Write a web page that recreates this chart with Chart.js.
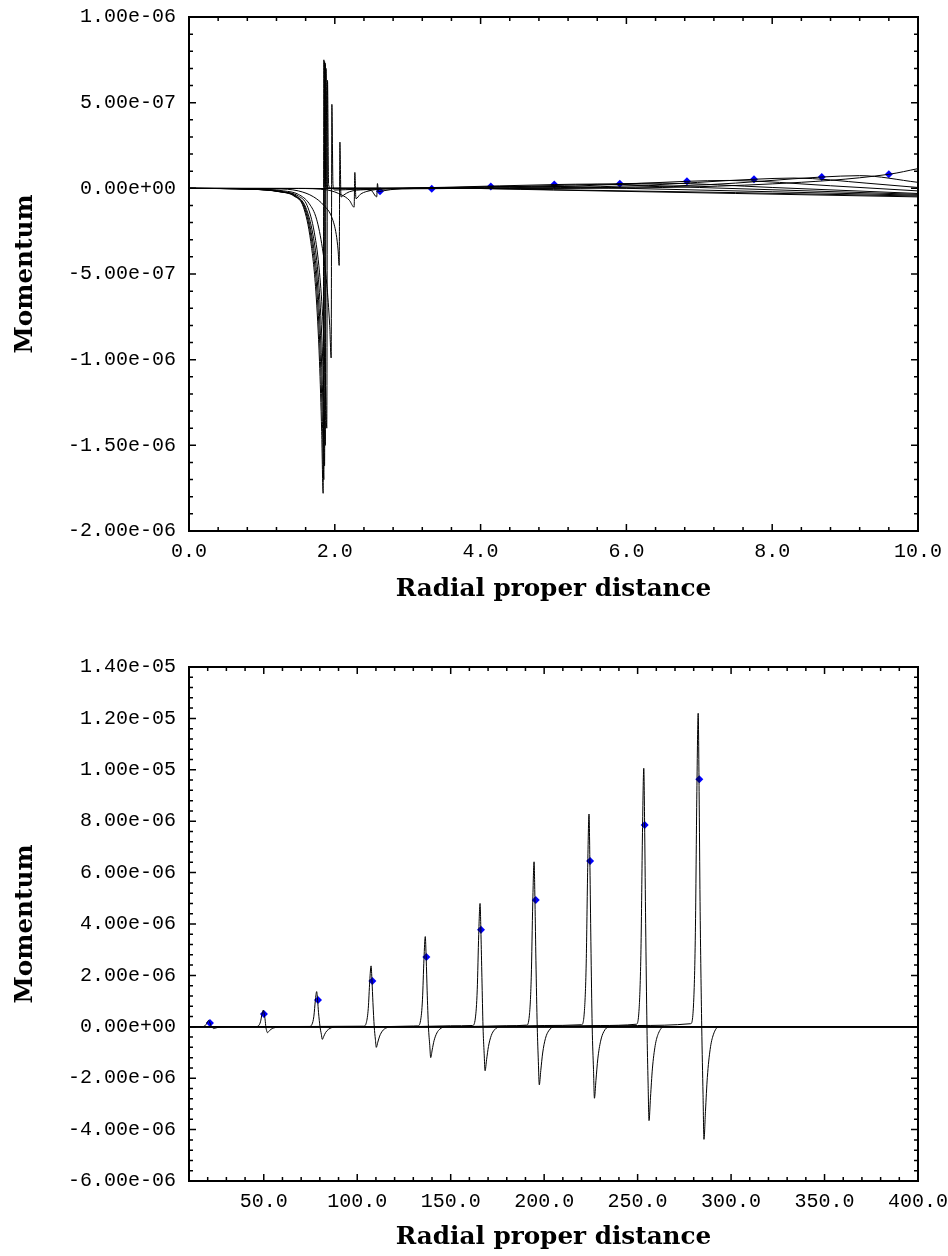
<!DOCTYPE html>
<html>
<head>
<meta charset="utf-8">
<script src="https://cdn.jsdelivr.net/npm/chart.js@4.4.1/dist/chart.umd.min.js"></script>
<style>
  html, body { margin: 0; padding: 0; background: #fff; }
  canvas { display: block; }
</style>
</head>
<body>
<canvas id="topChart" width="948" height="620"></canvas>
<canvas id="bottomChart" width="948" height="636"></canvas>
<script>
// ---- top panel (r = 0 .. 10) ----
const topXTicks = [0, 2, 4, 6, 8, 10];
const topXLabels = ['0.0', '2.0', '4.0', '6.0', '8.0', '10.0'];
const topYTicks = [-2e-6, -1.5e-6, -1e-6, -5e-7, 0, 5e-7, 1e-6];
const topYLabels = ['-2.00e-06', '-1.50e-06', '-1.00e-06', '-5.00e-07', '0.00e+00', '5.00e-07', '1.00e-06'];

// one momentum profile per snapshot, [r, p]
const topCurve1 = [[0,0],[1.5,0],[2.3,-0.04e-7],[2.5,-0.13e-7],[2.575,-0.5e-7],[2.585,0.28e-7],[2.6,-0.2e-7],[2.62,-0.175e-7],[3.2,0.03e-7],[5,-0.1e-7],[7.5,-0.3e-7],[10,-0.5e-7]];
const topCurve2 = [[0,0],[1.5,-0.01e-7],[1.9,-0.1e-7],[2.1,-0.4e-7],[2.2,-0.7e-7],[2.265,-1.1e-7],[2.275,0.93e-7],[2.29,-0.6e-7],[2.35,-0.35e-7],[2.44,-0.18e-7],[2.7,-0.03e-7],[3.33,-0.02e-7],[3.8,0],[5,-0.08e-7],[7.5,-0.25e-7],[10,-0.45e-7]];
const topCurve3 = [[0,0],[1.2,-0.03e-7],[1.5,-0.15e-7],[1.71,-0.5e-7],[1.85,-1.0e-7],[1.96,-1.7e-7],[2.02,-2.7e-7],[2.045,-3.6e-7],[2.06,-4.5e-7],[2.07,2.7e-7],[2.085,-0.5e-7],[2.12,-0.4e-7],[2.2,-0.2e-7],[2.4,-0.08e-7],[3,-0.02e-7],[4.14,0.10e-7],[4.7,0.12e-7],[6,0],[8,-0.2e-7],[10,-0.4e-7]];
const topCurve4 = [[0,0],[0.9,-0.03e-7],[1.3,-0.15e-7],[1.5,-0.35e-7],[1.65,-0.9e-7],[1.75,-1.8e-7],[1.83,-3.5e-7],[1.89,-5.6e-7],[1.93,-8.0e-7],[1.95,-9.9e-7],[1.96,4.9e-7],[1.975,0.2e-7],[2.0,-0.1e-7],[2.3,-0.05e-7],[3.5,0.06e-7],[5.01,0.22e-7],[5.6,0.25e-7],[7,0.05e-7],[10,-0.35e-7]];
const topCurve5 = [[0,0],[0.9,-0.05e-7],[1.3,-0.2e-7],[1.5,-0.45e-7],[1.62,-1.0e-7],[1.72,-2.6e-7],[1.79,-4.9e-7],[1.84,-8.0e-7],[1.87,-11.2e-7],[1.89,-14.0e-7],[1.9,6.3e-7],[1.915,0.2e-7],[1.95,0],[3,0],[4.4,0.09e-7],[5.91,0.27e-7],[6.5,0.30e-7],[8,0.05e-7],[10,-0.3e-7]];
const topCurve6 = [[0,0],[0.87,-0.05e-7],[1.27,-0.2e-7],[1.47,-0.45e-7],[1.6,-1.1e-7],[1.7,-2.7e-7],[1.77,-5.0e-7],[1.82,-8.5e-7],[1.85,-12.0e-7],[1.87,-15.0e-7],[1.88,7.0e-7],[1.895,0.2e-7],[1.93,0],[3.5,0],[5.3,0.13e-7],[6.83,0.41e-7],[7.4,0.46e-7],[8.8,0.15e-7],[10,-0.15e-7]];
const topCurve7 = [[0,0],[0.86,-0.05e-7],[1.26,-0.2e-7],[1.46,-0.45e-7],[1.59,-1.1e-7],[1.69,-2.9e-7],[1.76,-5.4e-7],[1.81,-9.2e-7],[1.84,-13.0e-7],[1.86,-16.2e-7],[1.87,7.3e-7],[1.885,0.2e-7],[1.92,0],[4,0],[6.2,0.17e-7],[7.75,0.53e-7],[8.3,0.60e-7],[9.3,0.3e-7],[10,0.05e-7]];
const topCurve8 = [[0,0],[0.85,-0.05e-7],[1.25,-0.2e-7],[1.45,-0.45e-7],[1.58,-1.1e-7],[1.68,-3.0e-7],[1.75,-5.7e-7],[1.8,-9.7e-7],[1.83,-13.6e-7],[1.85,-17.0e-7],[1.86,7.4e-7],[1.875,0.2e-7],[1.91,0],[4.5,0],[7.1,0.21e-7],[8.68,0.66e-7],[9.2,0.74e-7],[10,0.35e-7]];
const topCurve9 = [[0,0],[0.84,-0.05e-7],[1.24,-0.2e-7],[1.44,-0.45e-7],[1.57,-1.1e-7],[1.67,-3.1e-7],[1.74,-6.0e-7],[1.79,-10.1e-7],[1.82,-14.2e-7],[1.84,-17.8e-7],[1.85,7.5e-7],[1.865,0.2e-7],[1.9,0],[5,0],[8,0.26e-7],[9.6,0.82e-7],[10,1.15e-7]];
const topCurves = [topCurve1, topCurve2, topCurve3, topCurve4, topCurve5, topCurve6, topCurve7, topCurve8, topCurve9];

// blue markers on each snapshot
const topMarkerX = [2.62, 3.33, 4.14, 5.01, 5.91, 6.83, 7.75, 8.68, 9.60];
const topMarkerY = [-0.175e-7, -0.02e-7, 0.10e-7, 0.22e-7, 0.27e-7, 0.41e-7, 0.53e-7, 0.66e-7, 0.82e-7];

// ---- bottom panel (r = 10 .. 400) ----
const bottomXTicks = [50, 100, 150, 200, 250, 300, 350, 400];
const bottomXLabels = ['50.0', '100.0', '150.0', '200.0', '250.0', '300.0', '350.0', '400.0'];
const bottomYTicks = [-6e-6, -4e-6, -2e-6, 0, 2e-6, 4e-6, 6e-6, 8e-6, 1e-5, 1.2e-5, 1.4e-5];
const bottomYLabels = ['-6.00e-06', '-4.00e-06', '-2.00e-06', '0.00e+00', '2.00e-06', '4.00e-06', '6.00e-06', '8.00e-06', '1.00e-05', '1.20e-05', '1.40e-05'];

const bottomPulse1 = [[10,0],[16.5,0],[18,0.018e-6],[19,0.075e-6],[19.8,0.19e-6],[20.5,0.25e-6],[21,0.19e-6],[21.5,0.10e-6],[22.1,0],[22.7,-0.042e-6],[23.2,-0.07e-6],[24,-0.053e-6],[25,-0.032e-6],[26.5,-0.014e-6],[28.2,-0.005e-6],[31.2,0],[400,0]];
const bottomPulse2 = [[10,0],[45.75,0.007e-6],[47.25,0.046e-6],[48.25,0.195e-6],[49.05,0.49e-6],[49.75,0.65e-6],[50.25,0.49e-6],[50.75,0.26e-6],[51.1,0],[51.5,-0.14e-6],[52.0,-0.23e-6],[52.8,-0.17e-6],[53.8,-0.10e-6],[55.3,-0.046e-6],[57,-0.016e-6],[60,0],[400,0]];
const bottomPulse3 = [[10,0],[74.3,0.014e-6],[75.8,0.096e-6],[76.8,0.41e-6],[77.6,1.03e-6],[78.3,1.37e-6],[78.8,1.03e-6],[79.3,0.55e-6],[80.1,0],[80.8,-0.29e-6],[81.3,-0.49e-6],[82.1,-0.37e-6],[83.1,-0.22e-6],[84.6,-0.10e-6],[86.3,-0.034e-6],[89.3,0],[400,0]];
const bottomPulse4 = [[10,0],[103.4,0.024e-6],[104.9,0.17e-6],[105.9,0.71e-6],[106.7,1.78e-6],[107.4,2.37e-6],[107.9,1.78e-6],[108.4,0.95e-6],[109.1,0],[109.7,-0.48e-6],[110.2,-0.80e-6],[111,-0.60e-6],[112,-0.36e-6],[113.5,-0.16e-6],[115.2,-0.056e-6],[118.2,0],[400,0]];
const bottomPulse5 = [[10,0],[110,0],[130,0.03e-6],[132.4,0.035e-6],[133.9,0.25e-6],[134.9,1.05e-6],[135.7,2.63e-6],[136.4,3.51e-6],[136.9,2.63e-6],[137.4,1.40e-6],[138.1,0],[138.8,-0.72e-6],[139.3,-1.20e-6],[140.1,-0.90e-6],[141.1,-0.54e-6],[142.6,-0.24e-6],[144.3,-0.084e-6],[147.3,0],[400,0]];
const bottomPulse6 = [[10,0],[125,0],[150,0.04e-6],[161.7,0.05e-6],[163.2,0.34e-6],[164.2,1.44e-6],[165.0,3.60e-6],[165.7,4.80e-6],[166.2,3.60e-6],[166.7,1.92e-6],[167.3,0],[167.9,-1.03e-6],[168.4,-1.71e-6],[169.2,-1.28e-6],[170.2,-0.77e-6],[171.7,-0.34e-6],[173.4,-0.12e-6],[176.4,0],[400,0]];
const bottomPulse7 = [[10,0],[150,0],[180,0.04e-6],[190.6,0.065e-6],[192.1,0.45e-6],[193.1,1.93e-6],[193.9,4.82e-6],[194.6,6.42e-6],[195.1,4.82e-6],[195.6,2.57e-6],[196.3,0],[196.9,-1.36e-6],[197.4,-2.26e-6],[198.2,-1.70e-6],[199.2,-1.02e-6],[200.7,-0.45e-6],[202.4,-0.16e-6],[205.4,0],[400,0]];
const bottomPulse8 = [[10,0],[160,0],[200,0.05e-6],[220,0.08e-6],[221.5,0.58e-6],[222.5,2.48e-6],[223.3,6.21e-6],[224.0,8.28e-6],[224.5,6.21e-6],[225.0,3.31e-6],[225.7,0],[226.4,-1.67e-6],[226.9,-2.78e-6],[227.7,-2.09e-6],[228.7,-1.25e-6],[230.2,-0.56e-6],[231.9,-0.19e-6],[234.9,0],[400,0]];
const bottomPulse9 = [[10,0],[180,0],[230,0.05e-6],[249.3,0.10e-6],[250.8,0.70e-6],[251.8,3.02e-6],[252.6,7.55e-6],[253.3,10.06e-6],[253.8,7.55e-6],[254.3,4.02e-6],[255.0,0],[255.6,-2.19e-6],[256.1,-3.65e-6],[256.9,-2.74e-6],[257.9,-1.64e-6],[259.4,-0.73e-6],[261.1,-0.26e-6],[264.1,0],[400,0]];
const bottomPulse10 = [[10,0],[200,0],[250,0.05e-6],[278.4,0.12e-6],[279.9,0.85e-6],[280.9,3.66e-6],[281.7,9.15e-6],[282.4,12.2e-6],[282.9,9.15e-6],[283.4,4.88e-6],[284.3,0],[285.0,-2.63e-6],[285.5,-4.38e-6],[286.3,-3.29e-6],[287.3,-1.97e-6],[288.8,-0.88e-6],[290.5,-0.31e-6],[293.5,0],[400,0]];
const bottomCurves = [bottomPulse1, bottomPulse2, bottomPulse3, bottomPulse4, bottomPulse5, bottomPulse6, bottomPulse7, bottomPulse8, bottomPulse9, bottomPulse10];

const bottomMarkerX = [21.2, 50.1, 79.0, 108.1, 137.0, 166.2, 195.5, 224.6, 253.8, 283.0];
const bottomMarkerY = [0.15e-6, 0.50e-6, 1.04e-6, 1.78e-6, 2.72e-6, 3.78e-6, 4.93e-6, 6.45e-6, 7.85e-6, 9.63e-6];

const monoFont = { family: '"Liberation Mono", "DejaVu Sans Mono", monospace', size: 20 };
const titleFont = { family: '"DejaVu Serif", serif', size: 24.7, weight: 'bold' };

function isMajor(v, step) {
  return Math.abs(v / step - Math.round(v / step)) < 1e-6;
}

// frame box plus inward minor/major ticks on all four sides
const frameTicks = {
  id: 'frameTicks',
  afterDatasetsDraw(chart, args, opts) {
    const { ctx, chartArea: a, scales: { x, y } } = chart;
    ctx.save();
    ctx.strokeStyle = '#000';
    ctx.lineWidth = 1.5;
    ctx.beginPath();
    const nx = Math.round((x.max - x.min) / opts.xMinor);
    for (let i = 1; i < nx; i++) {
      const v = x.min + i * opts.xMinor;
      const len = isMajor(v, opts.xMajor) ? 7 : 4;
      const px = x.getPixelForValue(v);
      ctx.moveTo(px, a.bottom); ctx.lineTo(px, a.bottom - len);
      ctx.moveTo(px, a.top); ctx.lineTo(px, a.top + len);
    }
    const ny = Math.round((y.max - y.min) / opts.yMinor);
    for (let i = 1; i < ny; i++) {
      const v = y.min + i * opts.yMinor;
      const len = isMajor(v, opts.yMajor) ? 7 : 4;
      const py = y.getPixelForValue(v);
      ctx.moveTo(a.left, py); ctx.lineTo(a.left + len, py);
      ctx.moveTo(a.right, py); ctx.lineTo(a.right - len, py);
    }
    ctx.stroke();
    ctx.lineWidth = 2;
    ctx.strokeRect(a.left, a.top, a.right - a.left, a.bottom - a.top);
    ctx.restore();
  }
};

function makePanel(id, p) {
  const datasets = p.curves.map(d => ({
    type: 'line',
    data: d,
    borderColor: '#000',
    borderWidth: 1,
    pointRadius: 0,
    fill: false,
    cubicInterpolationMode: 'monotone'
  }));
  datasets.push({
    type: 'scatter',
    data: p.markerX.map((x, i) => ({ x: x, y: p.markerY[i] })),
    pointStyle: 'rectRot',
    pointRadius: 4,
    backgroundColor: '#0000ff',
    borderWidth: 0,
    showLine: false
  });

  return new Chart(document.getElementById(id), {
    type: 'line',
    data: { datasets: datasets },
    plugins: [frameTicks],
    options: {
      responsive: false,
      animation: false,
      devicePixelRatio: 1,
      events: [],
      layout: { padding: { top: p.padTop, right: 30, bottom: 0, left: 0 } },
      plugins: {
        legend: { display: false },
        tooltip: { enabled: false },
        frameTicks: { xMinor: p.xMinor, xMajor: p.xMajor, yMinor: p.yMinor, yMajor: p.yMajor }
      },
      scales: {
        x: {
          type: 'linear',
          min: p.xMin,
          max: p.xMax,
          grid: { display: false },
          border: { display: false },
          afterBuildTicks: s => { s.ticks = p.xTicks.map(v => ({ value: v })); },
          afterFit: s => { s.height = p.xAxisHeight; s.paddingLeft = 0; s.paddingRight = 0; },
          ticks: {
            autoSkip: false,
            maxRotation: 0,
            padding: 1,
            color: '#000',
            font: monoFont,
            callback: (v, i) => p.xLabels[i]
          },
          title: {
            display: true,
            text: 'Radial proper distance',
            color: '#000',
            font: titleFont,
            padding: { top: 0, bottom: p.titlePad }
          }
        },
        y: {
          type: 'linear',
          min: p.yMin,
          max: p.yMax,
          grid: { display: false },
          border: { display: false },
          afterBuildTicks: s => { s.ticks = p.yTicks.map(v => ({ value: v })); },
          afterFit: s => { s.width = 189; s.paddingTop = 0; s.paddingBottom = 0; },
          ticks: {
            autoSkip: false,
            padding: 5,
            color: '#000',
            font: monoFont,
            callback: (v, i) => p.yLabels[i]
          },
          title: {
            display: true,
            text: 'Momentum',
            color: '#000',
            font: titleFont,
            padding: { top: 11, bottom: 0 }
          }
        }
      }
    }
  });
}

makePanel('topChart', {
  curves: topCurves, markerX: topMarkerX, markerY: topMarkerY,
  xMin: 0, xMax: 10, yMin: -2e-6, yMax: 1e-6,
  xTicks: topXTicks, xLabels: topXLabels, yTicks: topYTicks, yLabels: topYLabels,
  xMinor: 0.4, xMajor: 2, yMinor: 1e-7, yMajor: 5e-7,
  padTop: 17, xAxisHeight: 89, titlePad: 16
});

makePanel('bottomChart', {
  curves: bottomCurves, markerX: bottomMarkerX, markerY: bottomMarkerY,
  xMin: 10, xMax: 400, yMin: -6e-6, yMax: 1.4e-5,
  xTicks: bottomXTicks, xLabels: bottomXLabels, yTicks: bottomYTicks, yLabels: bottomYLabels,
  xMinor: 10, xMajor: 50, yMinor: 4e-7, yMajor: 2e-6,
  padTop: 47, xAxisHeight: 75, titlePad: 4
});
</script>
</body>
</html>
